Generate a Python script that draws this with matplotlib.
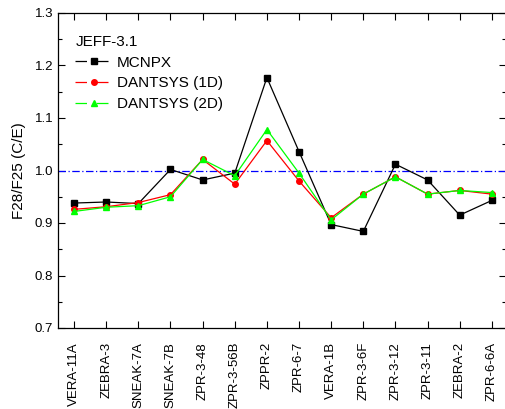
import matplotlib
matplotlib.use("Agg")
import matplotlib.pyplot as plt
from matplotlib.lines import Line2D
from matplotlib.ticker import MultipleLocator

plt.rcParams['font.family'] = ['Liberation Sans', 'DejaVu Sans']

categories = ["VERA-11A", "ZEBRA-3", "SNEAK-7A", "SNEAK-7B", "ZPR-3-48", "ZPR-3-56B",
              "ZPPR-2", "ZPR-6-7", "VERA-1B", "ZPR-3-6F", "ZPR-3-12", "ZPR-3-11",
              "ZEBRA-2", "ZPR-6-6A"]
mcnpx = [0.938, 0.940, 0.937, 1.002, 0.982, 0.995, 1.177, 1.036, 0.897, 0.884,
         1.012, 0.982, 0.915, 0.943]
dant_1d = [0.926, 0.931, 0.939, 0.954, 1.021, 0.974, 1.057, 0.980, 0.910, 0.955,
           0.988, 0.955, 0.962, 0.955]
dant_2d = [0.922, 0.930, 0.933, 0.950, 1.021, 0.990, 1.078, 0.995, 0.906, 0.955,
           0.988, 0.955, 0.962, 0.958]
reference_value = 1.0

fig = plt.figure(figsize=(5.06, 4.09), dpi=100)
ax = fig.add_axes([58/506, (409-328)/409, 448/506, 315/409])

x = list(range(len(categories)))
ax.plot(x, mcnpx, color='black', lw=0.9, marker='s', ms=4, zorder=3)
ax.plot(x, dant_1d, color='#ff0000', lw=0.9, marker='o', ms=4, zorder=4)
ax.plot(x, dant_2d, color='#00ff00', lw=0.9, marker='^', ms=4.5, zorder=5)
ax.axhline(reference_value, color='#0000ff', lw=0.9, ls=(0, (6, 2, 1, 2)), zorder=2)

ax.set_xlim(-0.5, 13.44)
ax.set_ylim(0.7, 1.3)
ax.set_xticks(x)
ax.set_xticklabels(categories, rotation=90, fontsize=9.5)
ax.yaxis.set_major_locator(MultipleLocator(0.1))
ax.yaxis.set_minor_locator(MultipleLocator(0.05))
ax.yaxis.set_major_formatter(plt.FormatStrFormatter('%.1f'))
ax.tick_params(axis='both', which='major', direction='in', length=5, width=0.8,
               top=True, right=True, labelsize=9.5)
ax.tick_params(axis='y', which='minor', direction='in', length=3, width=0.8, right=True)
ax.tick_params(axis='x', which='major', pad=10)
for s in ax.spines.values():
    s.set_linewidth(0.9)
ax.set_ylabel("F28/F25 (C/E)", fontsize=11, labelpad=6)

dash = (0, (9.2, 8, 9.2, 100))
handles = [
    Line2D([], [], color='black', lw=0.9, ls=dash, marker='s', ms=4),
    Line2D([], [], color='#ff0000', lw=0.9, ls=dash, marker='o', ms=4),
    Line2D([], [], color='#00ff00', lw=0.9, ls=dash, marker='^', ms=4.5),
]
leg = ax.legend(handles, ["MCNPX", "DANTSYS (1D)", "DANTSYS (2D)"], title="JEFF-3.1",
                loc='upper left', bbox_to_anchor=(0.015, 0.965), frameon=False,
                fontsize=11, title_fontsize=11, numpoints=1, handlelength=2.4,
                handletextpad=0.3, labelspacing=0.45, borderaxespad=0.3)
leg._legend_box.align = "left"

fig.savefig("out.png", dpi=100)
